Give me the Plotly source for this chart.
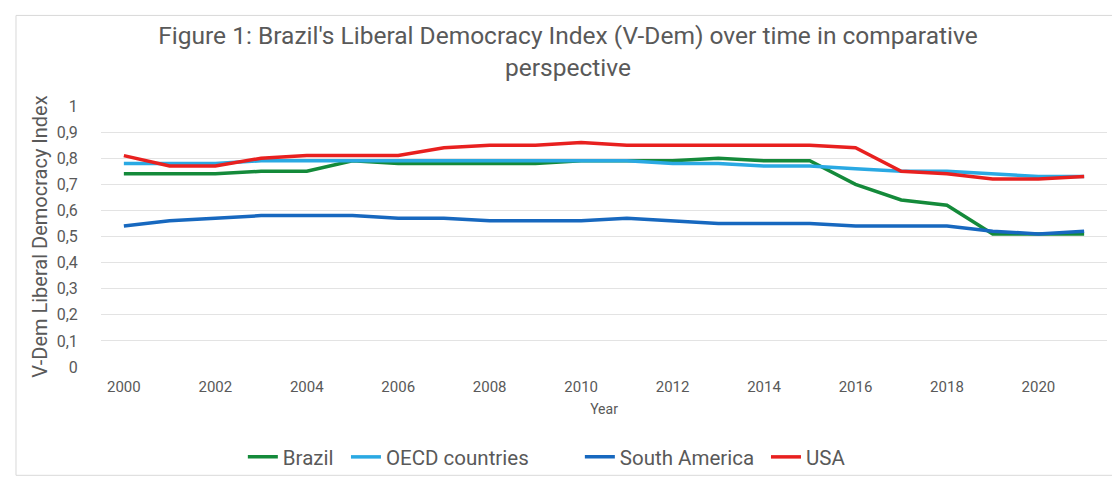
import plotly.graph_objects as go

years = list(range(2000, 2022))
brazil = [0.74, 0.74, 0.74, 0.75, 0.75, 0.79, 0.78, 0.78, 0.78, 0.78, 0.79,
          0.79, 0.79, 0.80, 0.79, 0.79, 0.70, 0.64, 0.62, 0.51, 0.51, 0.51]
oecd = [0.78, 0.78, 0.78, 0.79, 0.79, 0.79, 0.79, 0.79, 0.79, 0.79, 0.79,
        0.79, 0.78, 0.78, 0.77, 0.77, 0.76, 0.75, 0.75, 0.74, 0.73, 0.73]
south_america = [0.54, 0.56, 0.57, 0.58, 0.58, 0.58, 0.57, 0.57, 0.56, 0.56, 0.56,
                 0.57, 0.56, 0.55, 0.55, 0.55, 0.54, 0.54, 0.54, 0.52, 0.51, 0.52]
usa = [0.81, 0.77, 0.77, 0.80, 0.81, 0.81, 0.81, 0.84, 0.85, 0.85, 0.86,
       0.85, 0.85, 0.85, 0.85, 0.85, 0.84, 0.75, 0.74, 0.72, 0.72, 0.73]

series = [
    ("Brazil", brazil, "#148a3a"),
    ("OECD countries", oecd, "#2aa9e3"),
    ("South America", south_america, "#1768bf"),
    ("USA", usa, "#e8201f"),
]
# legend entry positions (paper x, left anchor)
legend_x = [0.141, 0.2435, 0.476, 0.661]

y_ticks = [i / 10 for i in range(11)]
y_labels = ["0", "0,1", "0,2", "0,3", "0,4", "0,5", "0,6", "0,7", "0,8", "0,9", "1"]
x_ticks = list(range(2000, 2022, 2))

grey = "#595959"
fig = go.Figure()
legend_layout = {}
for i, (name, vals, color) in enumerate(series):
    key = "legend" if i == 0 else f"legend{i + 1}"
    fig.add_trace(go.Scatter(x=years, y=vals, mode="lines", name=name, legend=key,
                             line=dict(color=color, width=3.5)))
    legend_layout[key] = dict(orientation="h", x=legend_x[i], xanchor="left",
                              y=-0.345, yanchor="middle", bgcolor="rgba(0,0,0,0)",
                              font=dict(size=20.5, color=grey), itemwidth=30)

fig.update_layout(
    width=1120, height=481,
    paper_bgcolor="white", plot_bgcolor="white",
    font=dict(family="Roboto", color=grey),
    margin=dict(l=93, r=21, t=98, b=115),
    title=dict(text="Figure 1: Brazil's Liberal Democracy Index (V-Dem) over time in comparative<br>perspective",
               x=0.5, xanchor="center", y=0.925, yanchor="middle",
               font=dict(size=24.5, color=grey, family="Roboto")),
    xaxis=dict(range=[1999.5, 2021.5], tickvals=x_ticks, showgrid=False, zeroline=False,
               showline=False, ticks="outside", ticklen=6, tickcolor="rgba(0,0,0,0)",
               tickfont=dict(size=15, color=grey),
               title=dict(text="Year", font=dict(size=14, color=grey), standoff=9)),
    yaxis=dict(range=[0, 1], tickvals=y_ticks, ticktext=y_labels, showgrid=True,
               gridcolor="#e3e3e3", gridwidth=1, zeroline=False,
               ticks="outside", ticklen=19, tickcolor="rgba(0,0,0,0)",
               tickfont=dict(size=16, color=grey),
               title=dict(text="V-Dem Liberal Democracy Index", font=dict(size=20, color=grey), standoff=3)),
    showlegend=True,
    shapes=[dict(type="rect", xref="paper", yref="paper",
                 x0=-0.0845, x1=1.011, y0=-0.415, y1=1.347,
                 line=dict(color="#d9d9d9", width=1), layer="below")],
    **legend_layout,
)

fig.write_html("out.html")
